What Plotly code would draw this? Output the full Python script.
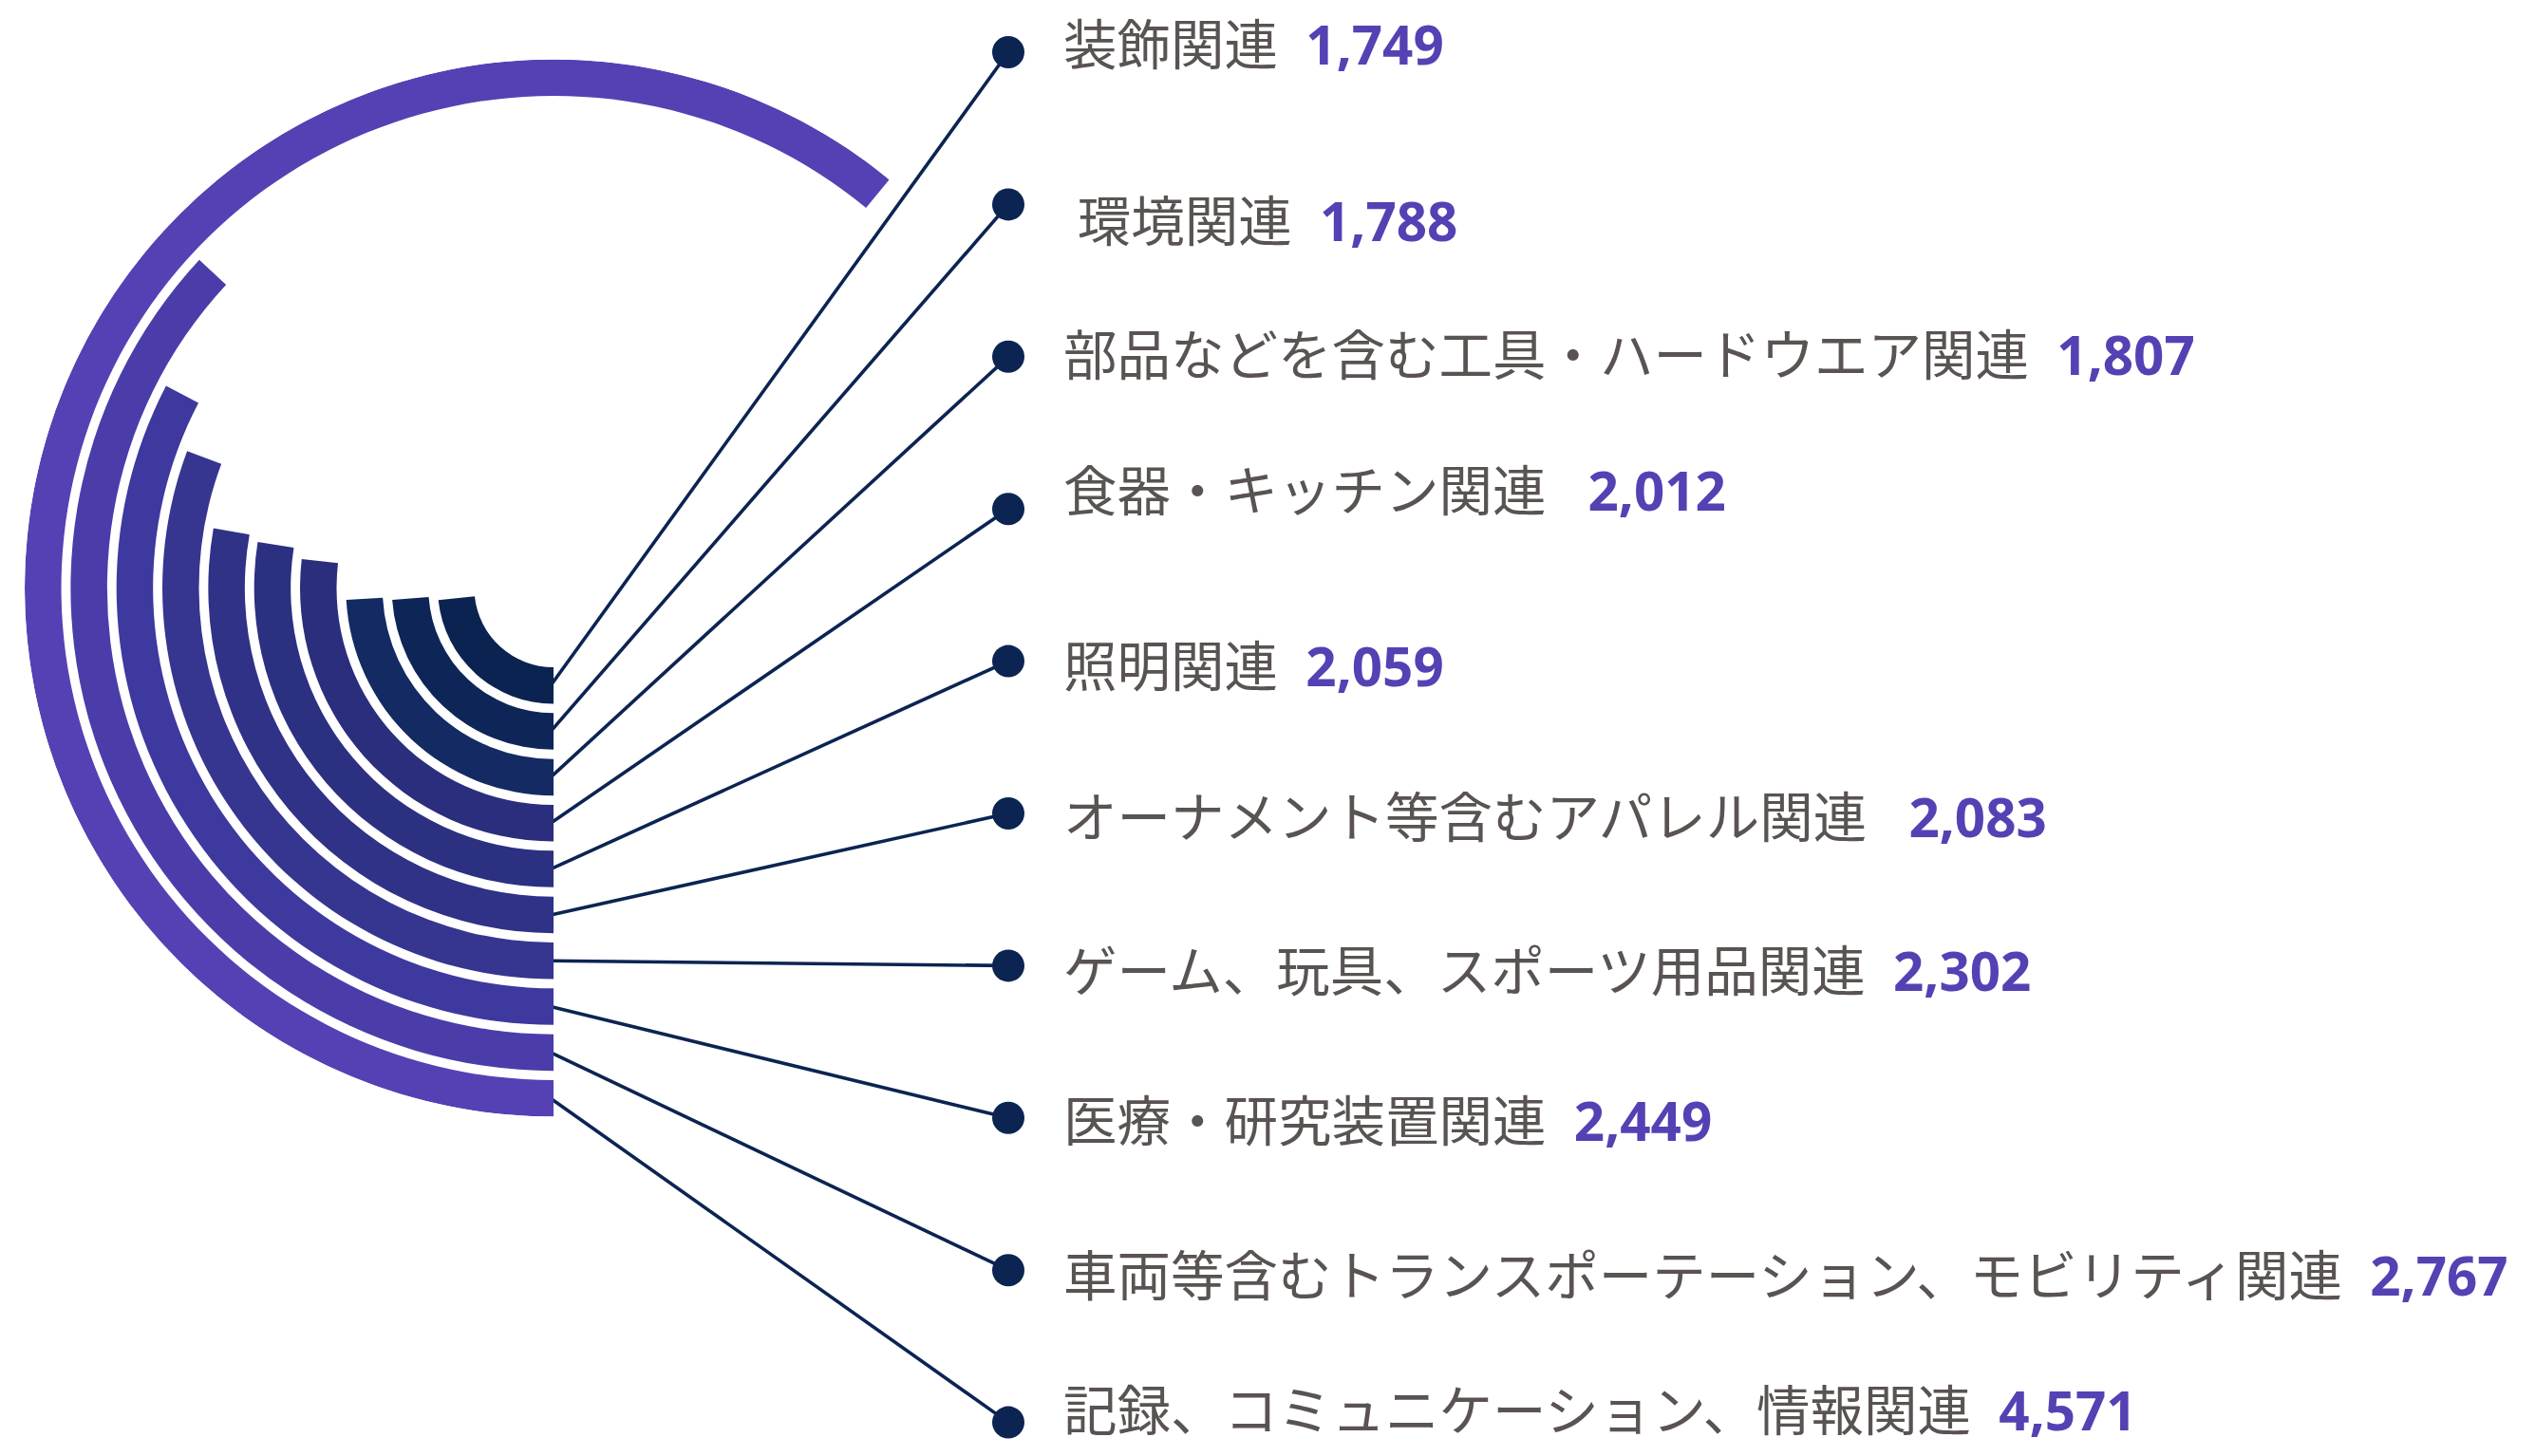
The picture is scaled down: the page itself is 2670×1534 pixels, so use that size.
import plotly.graph_objects as go

# ---------------- data (inner ring -> outer ring) ----------------
categories = [
    "装飾関連",
    " 環境関連",
    "部品などを含む工具・ハードウエア関連",
    "食器・キッチン関連 ",
    "照明関連",
    "オーナメント等含むアパレル関連 ",
    "ゲーム、玩具、スポーツ用品関連",
    "医療・研究装置関連",
    "車両等含むトランスポーテーション、モビリティ関連",
    "記録、コミュニケーション、情報関連",
]
values = [1749, 1788, 1807, 2012, 2059, 2083, 2302, 2449, 2767, 4571]

# ---------------- styling / geometry ----------------
W, H = 2670, 1534
OFF = 8                           # compensate the page's default body margin
FULL_CIRCLE_VALUE = 7500          # value that would make a full 360° ring
CX, CY, R = 583 - OFF, 619.5 - OFF, 557   # polar centre & outer radius (px)
HOLE = 83.5                       # inner radius of innermost ring (px)
STEP = 48.33                      # ring pitch (px)
THICK = 38.5                      # ring thickness (px)

ring_colors = ["#0b2350", "#0e2558", "#132a63", "#2a2e7d", "#2c3081",
               "#2f3286", "#363590", "#3e399e", "#4a3daa", "#5541b3"]
navy = "#0b2452"
text_grey = "#595351"
value_purple = "#5541b3"

DOT_X, DOT_Y0, DOT_STEP = 1062 - OFF, 55 - OFF, 160.4
TEXT_X = 1118 - OFF
label_dy = [-9, 17, -2, -20, 5, 3, 5, 3, 5, -13]

fig = go.Figure()

# ---------------- radial bars ----------------
for i, (cat, v) in enumerate(zip(categories, values)):
    deg = v / FULL_CIRCLE_VALUE * 360.0
    fig.add_trace(go.Barpolar(
        r=[THICK], base=[HOLE + i * STEP],
        theta=[deg / 2.0], width=[deg],
        marker=dict(color=ring_colors[i], line=dict(width=0)),
        name=cat.strip(), hovertext=[f"{cat.strip()}: {v:,}"], hoverinfo="text",
        showlegend=False,
    ))

# ---------------- connector lines, dots, labels ----------------
n = len(values)
dot_y = [DOT_Y0 + i * DOT_STEP for i in range(n)]
ring_mid = [CY + HOLE + i * STEP + THICK / 2.0 for i in range(n)]

for i in range(n):
    fig.add_trace(go.Scatter(
        x=[CX - 3, DOT_X], y=[ring_mid[i], dot_y[i]],
        mode="lines", line=dict(color=navy, width=3.6),
        xaxis="x", yaxis="y", hoverinfo="skip", showlegend=False,
    ))

fig.add_trace(go.Scatter(
    x=[DOT_X] * n, y=dot_y, mode="markers",
    marker=dict(color=navy, size=34, line=dict(width=0)),
    xaxis="x", yaxis="y", hoverinfo="skip", showlegend=False,
))

nb = "\u00a0"
for i, (cat, v) in enumerate(zip(categories, values)):
    label = cat.replace(" ", nb)
    txt = (f"{label}{nb}{nb}<b><span style='color:{value_purple}'>{v:,}</span></b>")
    fig.add_annotation(
        x=TEXT_X, y=dot_y[i] + label_dy[i], xref="x", yref="y",
        text=txt, showarrow=False, xanchor="left", yanchor="middle",
        font=dict(family="Open Sans, Noto Sans CJK JP", size=56.5, color=text_grey),
    )

# ---------------- layout ----------------
fig.update_layout(
    width=W, height=H,
    margin=dict(l=0, r=0, t=0, b=0),
    paper_bgcolor="white", plot_bgcolor="rgba(0,0,0,0)",
    showlegend=False,
    xaxis=dict(range=[0, W], domain=[0, 1], visible=False, fixedrange=True),
    yaxis=dict(range=[H, 0], domain=[0, 1], visible=False, fixedrange=True),
    polar=dict(
        domain=dict(x=[(CX - R) / W, (CX + R) / W],
                    y=[(H - (CY + R)) / H, (H - (CY - R)) / H]),
        bgcolor="rgba(0,0,0,0)",
        radialaxis=dict(range=[0, R], visible=False, showgrid=False, showline=False),
        angularaxis=dict(rotation=270, direction="clockwise", visible=False,
                         showgrid=False, showline=False, thetaunit="degrees"),
    ),
)

fig.write_html("out.html")
